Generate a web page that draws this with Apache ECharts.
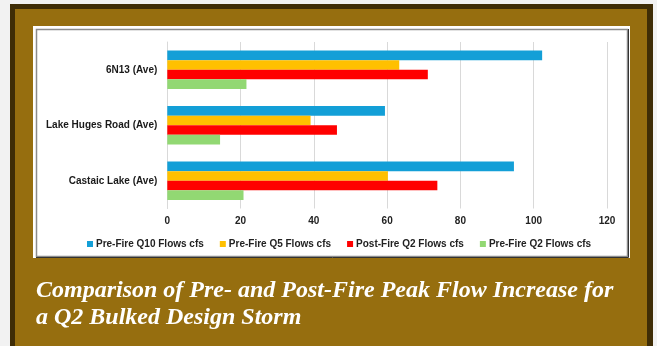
<!DOCTYPE html>
<html>
<head>
<meta charset="utf-8">
<style>
  html, body { margin: 0; padding: 0; background: #f2f2f2; }
  #chart { width: 657px; height: 346px; }
</style>
</head>
<body>
<div id="chart"></div>
<script src="https://cdn.jsdelivr.net/npm/echarts@6/dist/echarts.min.js"></script>
<script>
// 数据
var sites = ['6N13 (Ave)', 'Lake Huges Road (Ave)', 'Castaic Lake (Ave)'];
var seriesNames = ['Pre-Fire Q10 Flows cfs', 'Pre-Fire Q5 Flows cfs', 'Post-Fire Q2 Flows cfs', 'Pre-Fire Q2 Flows cfs'];
var preQ10 = [102.3, 59.4, 94.6];
var preQ5 = [63.3, 39.1, 60.2];
var postQ2 = [71.1, 46.3, 73.7];
var preQ2 = [21.6, 14.4, 20.8];
var xTicks = [0, 20, 40, 60, 80, 100, 120];
var colors = ['#139FD7', '#FFC000', '#FF0000', '#92D873'];

var chart = echarts.init(document.getElementById('chart'));
var values = [preQ10, preQ5, postQ2, preQ2];

var option = {
  animation: false,
  backgroundColor: '#f2f2f2',
  color: colors,
  graphic: [
    // 外框
    { type: 'rect', shape: { x: 10, y: 4, width: 643, height: 350 }, style: { fill: '#3F2D06' }, z: -10 },
    { type: 'rect', shape: { x: 15, y: 9, width: 632, height: 345 }, style: { fill: '#966E0F' }, z: -9 },
    { type: 'rect', shape: { x: 33, y: 26, width: 597, height: 232 }, style: { fill: '#ffffff' }, z: -8 },
    { type: 'rect', shape: { x: 36.5, y: 29.5, width: 591, height: 227 }, style: { fill: 'none', stroke: '#8c8c8c', lineWidth: 1.5 }, z: -7 },
    { type: 'polyline', shape: { points: [[628.5, 29], [628.5, 257.5], [36, 257.5]] }, style: { fill: 'none', stroke: '#333', lineWidth: 1 }, z: -6 }
  ],
  title: {
    text: 'Comparison of Pre- and Post-Fire Peak Flow Increase for\na Q2 Bulked Design Storm',
    left: 31,
    top: 272,
    textStyle: {
      color: '#ffffff',
      fontFamily: 'Liberation Serif',
      fontStyle: 'italic',
      fontWeight: 'bold',
      fontSize: 24,
      lineHeight: 27
    }
  },
  legend: {
    data: seriesNames,
    left: 82,
    top: 234,
    icon: 'rect',
    itemWidth: 6,
    itemHeight: 6,
    itemGap: 16,
    textStyle: { fontFamily: 'Liberation Sans', fontWeight: 'bold', fontSize: 10, color: '#222', padding: [0, 0, 0, -2] }
  },
  grid: { left: 167.3, right: 50, top: 42, bottom: 137.5, containLabel: false },
  xAxis: {
    type: 'value',
    min: 0,
    max: 120,
    interval: 20,
    axisLine: { show: false },
    axisTick: { show: false },
    splitLine: { lineStyle: { color: '#d9d9d9', width: 1 } },
    axisLabel: {
      margin: 8,
      fontFamily: 'Liberation Sans',
      fontWeight: 'bold',
      fontSize: 10,
      color: '#222',
      formatter: function (v) { return xTicks.indexOf(v) >= 0 ? String(v) : ''; }
    }
  },
  yAxis: {
    type: 'category',
    data: sites,
    inverse: true,
    axisLine: { show: true, lineStyle: { color: '#d9d9d9' } },
    axisTick: { show: false },
    axisLabel: {
      margin: 10,
      fontFamily: 'Liberation Sans',
      fontWeight: 'bold',
      fontSize: 10,
      color: '#1a1a1a'
    }
  },
  series: seriesNames.map(function (name, i) {
    return {
      name: name,
      type: 'bar',
      data: values[i],
      barGap: '0%',
      barCategoryGap: '31%',
      itemStyle: { color: colors[i] }
    };
  })
};

chart.setOption(option);
</script>
</body>
</html>
